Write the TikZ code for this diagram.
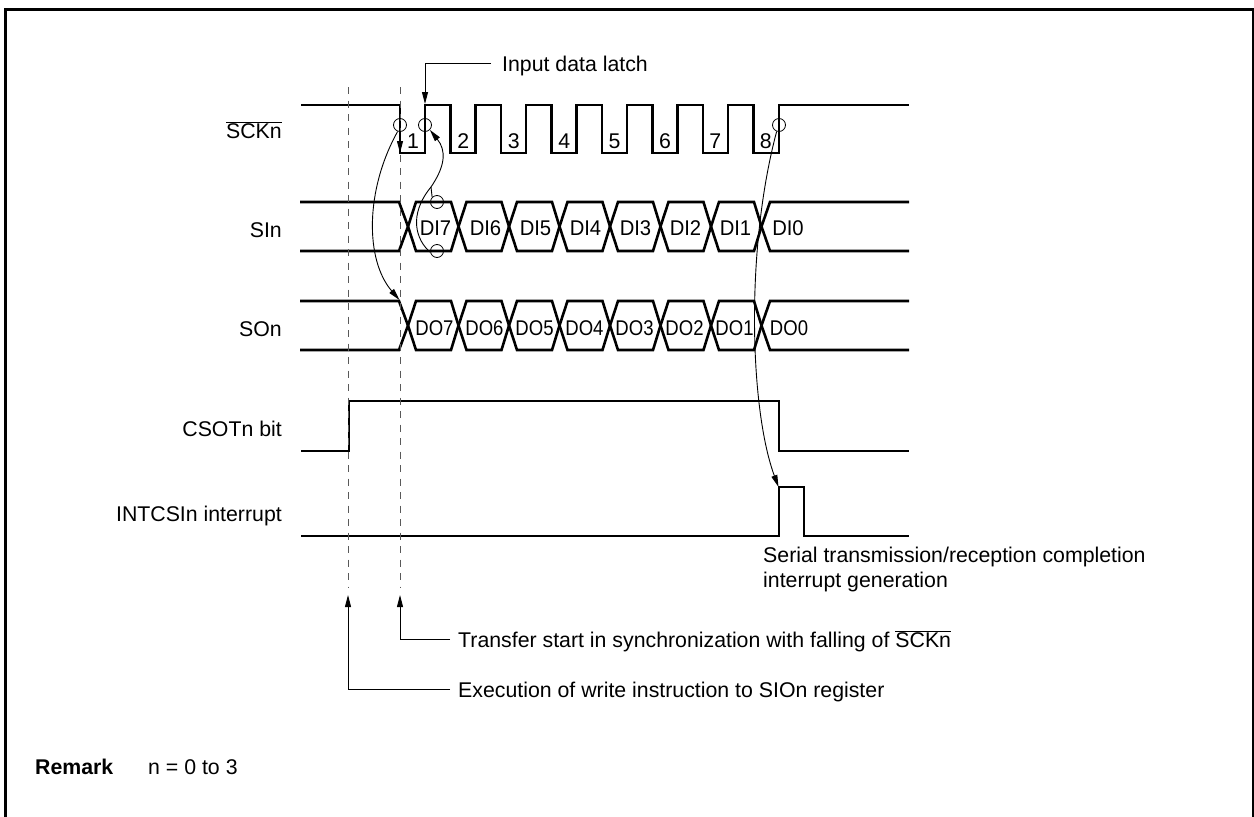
\documentclass[tikz,border=0pt]{standalone}
\usepackage{fontspec}
\setmainfont{Liberation Sans}
\newfontfamily\inputfont[FakeStretch=0.95]{Liberation Sans}
\newfontfamily\outputfont[FakeStretch=0.87]{Liberation Sans}
\usetikzlibrary{arrows.meta}
\newcommand{\barred}[1]{\ensuremath{\overline{\mbox{#1}}}}
\tikzset{
    wave/.style={line width=2.6pt, line join=miter},
    leader/.style={line width=0.9pt},
    flow/.style={leader, -{Triangle[length=12pt, width=6pt]}},
    guide/.style={line width=0.9pt, black!65, dash pattern=on 7pt off 6.5pt},
    ring/.style={circle, draw, line width=0.8pt, minimum size=13pt, inner sep=0pt},
    note/.style={font=\fontsize{21.3}{25}\selectfont, inner sep=0pt, align=left},
    label/.style={note, text height=15pt, text depth=0pt},
    signal/.style={label, anchor=east},
    remark/.style={label, anchor=west},
    incell/.style={label, font=\fontsize{21.3}{25}\inputfont},
    outcell/.style={label, font=\fontsize{21.3}{25}\outputfont},
}

\begin{document}
\begin{tikzpicture}[x=1pt, y=-1pt]

    \useasboundingbox (0,0) rectangle (1254,817);
    \draw[line width=2.6pt] (5.5,817) -- (5.5,9.5) -- (1253,9.5) -- (1253,817);

    % signal names
    \node[signal] (sck) at (282,130.5) {\barred{SCKn}};
    \node[signal] (si) at (282,229.5) {SIn};
    \node[signal] (so) at (282,328.5) {SOn};
    \node[signal] (csot) at (282,429) {CSOTn bit};
    \node[signal] (intcs) at (282,514) {INTCSIn interrupt};

    % clock
    \draw[wave] (301,105) -- (400,105) -- (400,153) -- (425,153) -- (425,105)
        \foreach \i in {1,...,6} {
            -- ({400+50.5*\i},105) -- ({400+50.5*\i},153)
            -- ({425+50.5*\i},153) -- ({425+50.5*\i},105)
        }
        -- (753.5,105) -- (753.5,153) -- (779,153) -- (779,105) -- (909,105);
    \foreach \i in {1,...,8} {
        \node[label] (n\i) at ({413+50.4*(\i-1)},140.5) {\i};
    }

    % data lines
    \foreach \top/\bot/\mid in {202/251/226.5,301/350/325.5} {
        \draw[wave] (300,\top) -- (399,\top) -- (408,\mid);
        \draw[wave] (300,\bot) -- (399,\bot) -- (408,\mid);
        \foreach \i in {0,...,6} {
            \draw[wave] ({408+50.5*\i},\mid) -- ({416+50.5*\i},\top)
                -- ({451+50.5*\i},\top) -- ({458.5+50.5*\i},\mid);
            \draw[wave] ({408+50.5*\i},\mid) -- ({416+50.5*\i},\bot)
                -- ({451+50.5*\i},\bot) -- ({458.5+50.5*\i},\mid);
        }
        \draw[wave] (761.5,\mid) -- (770,\top) -- (909,\top);
        \draw[wave] (761.5,\mid) -- (770,\bot) -- (909,\bot);
    }
    \foreach \i/\k in {0/7,1/6,2/5,3/4,4/3,5/2,6/1} {
        \node[incell] (di\k) at ({435.5+50*\i},228) {DI\k};
        \node[outcell] (do\k) at ({434.5+50*\i},327.5) {DO\k};
    }
    \node[incell] (di0) at (788,228) {DI0};
    \node[outcell] (do0) at (789,327.5) {DO0};

    % CSOTn and interrupt
    \draw[wave] (301,451) -- (349,451) -- (349,401) -- (779,401) -- (779,451) -- (909,451);
    \draw[wave] (301,536) -- (779,536) -- (779,487) -- (804,487) -- (804,536) -- (909,536);

    % dashed guides
    \draw[guide] (348,87) -- (348,587);
    \draw[guide] (400,87) -- (400,587);

    % rings on the edges
    \node[ring] (fallA) at (400,125) {};
    \node[ring] (riseA) at (425,125) {};
    \node[ring] (riseB) at (779,125) {};
    \node[ring] (sample) at (437,202) {};
    \node[ring] (hold) at (437,251) {};

    \coordinate (fork) at (431,187);
    \coordinate (soedge) at (399.5,300);
    \coordinate (intedge) at (778.5,487);
    \coordinate (latchedge) at (425,104);
    \coordinate (startedge) at (400,595);
    \coordinate (writeedge) at (348,595);
    \coordinate (lowedge) at (400,153);

    \draw[flow] (fallA.south) -- (lowedge);
    \draw[flow] (fallA.250) .. controls (365,190) and (365,260) .. (soedge);
    \draw[leader] (hold.190) .. controls (416,240) and (408,215) .. (fork);
    \draw[flow] (fork) .. controls (446,165) and (446,150) .. (riseA.-45);
    \draw[leader] (sample.135) -- (fork);
    \draw[flow] (riseB.250) .. controls (745,250) and (750,410) .. (intedge);

    % notes
    \node[remark] (latch) at (502,63.5) {Input data latch};
    \node[note, anchor=north west] (serial) at (763,547) {Serial transmission/reception completion\\interrupt generation};
    \node[remark] (start) at (458,639.5) {Transfer start in synchronization with falling of \barred{SCKn}};
    \node[remark] (write) at (458,689.5) {Execution of write instruction to SIOn register};
    \node[remark] (title) at (35,766.5) {\textbf{Remark}};
    \node[remark] (range) at (148,766.5) {n = 0 to 3};

    \draw[flow] (latch.west) ++(-11,0) -| (latchedge);
    \draw[flow] (start.west) ++(-8,0) -| (startedge);
    \draw[flow] (write.west) ++(-8,0) -| (writeedge);

\end{tikzpicture}
\end{document}
